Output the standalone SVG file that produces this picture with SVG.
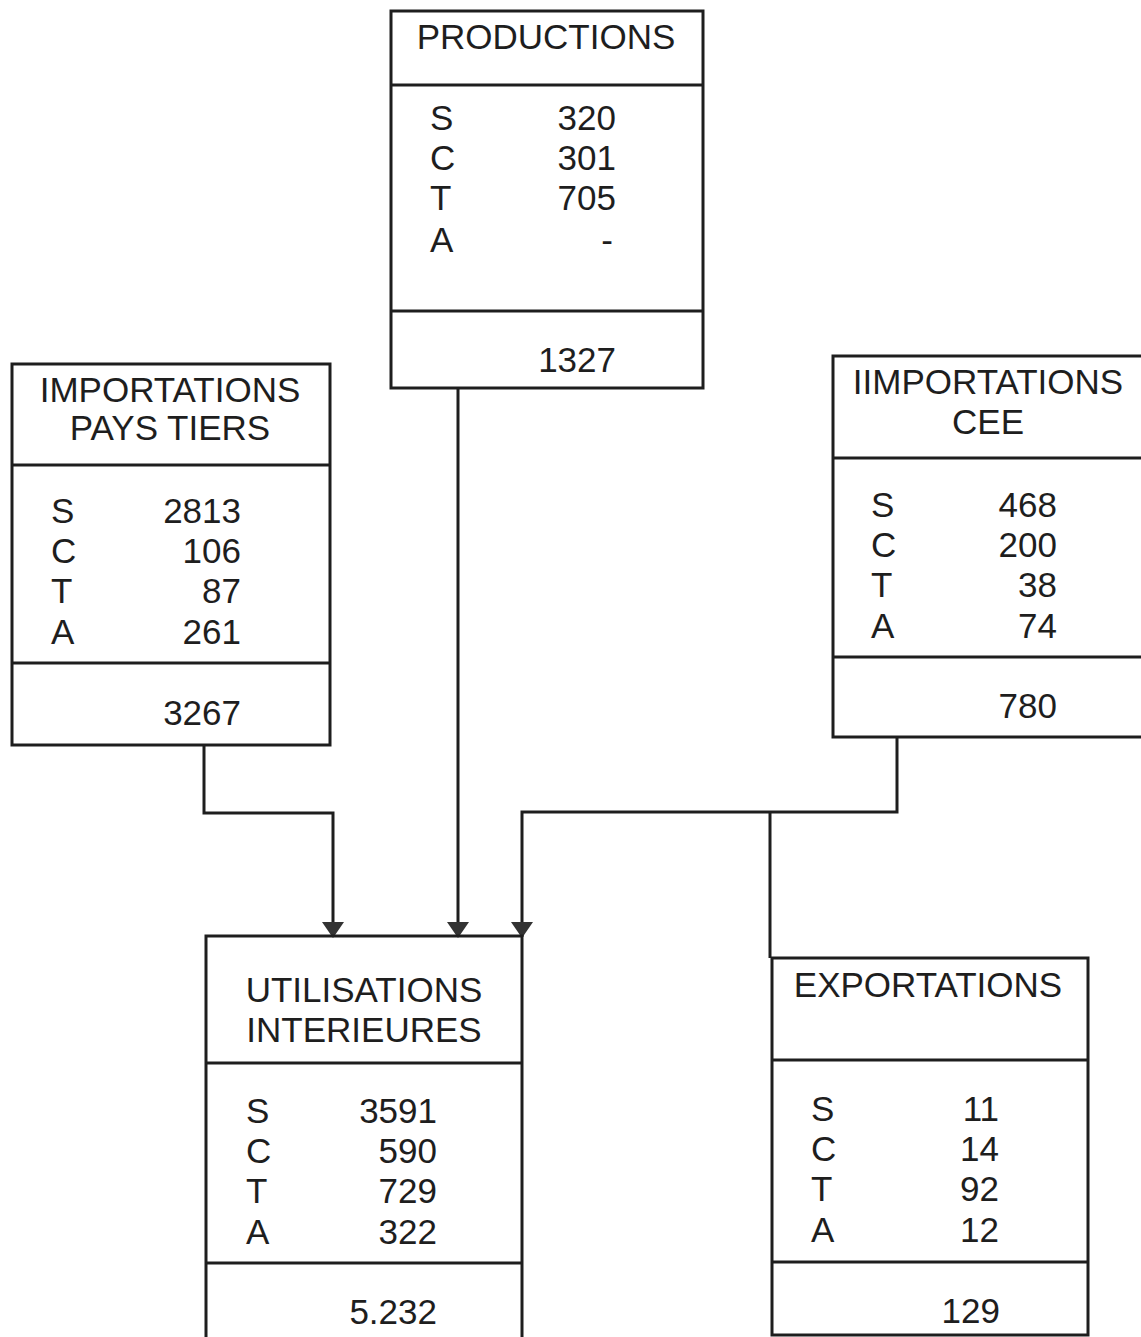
<svg xmlns="http://www.w3.org/2000/svg" width="1141" height="1337" viewBox="0 0 1141 1337">
<style>
.box{fill:none;stroke:#1e1e1e;stroke-width:3}
.ln{stroke:#1e1e1e;stroke-width:3}
.t{font-family:"Liberation Sans",Arial,sans-serif;font-size:35px;fill:#1e1e1e}
.c{text-anchor:middle}
.e{text-anchor:end}
.conn{fill:none;stroke:#1e1e1e;stroke-width:3}
</style>
<defs>
<marker id="arr" viewBox="0 0 16 22" refX="15" refY="11" markerWidth="16" markerHeight="22" markerUnits="userSpaceOnUse" orient="auto">
<path d="M0,0 L16,11 L0,22 z" fill="#333"/>
</marker>
</defs>
<rect width="1141" height="1337" fill="#fff"/>
<g id="connectors">
<path class="conn" d="M204 745 V813 H333 V937" marker-end="url(#arr)"/>
<path class="conn" d="M458 388 V937" marker-end="url(#arr)"/>
<path class="conn" d="M897 737 V812 H522 V937" marker-end="url(#arr)"/>
<path class="conn" d="M770 812 V958"/>
</g>
<g id="productions">
<rect class="box" x="391" y="11" width="312" height="377"/>
<line class="ln" x1="391" y1="85" x2="703" y2="85"/>
<line class="ln" x1="391" y1="311" x2="703" y2="311"/>
<text class="t c" x="546" y="49">PRODUCTIONS</text>
<text class="t" x="430" y="130">S</text>
<text class="t" x="430" y="170">C</text>
<text class="t" x="430" y="210">T</text>
<text class="t" x="430" y="252">A</text>
<text class="t e" x="616" y="130">320</text>
<text class="t e" x="616" y="170">301</text>
<text class="t e" x="616" y="210">705</text>
<text class="t e" x="613" y="252">-</text>
<text class="t e" x="616" y="372">1327</text>
</g>
<g id="imp-pays-tiers">
<rect class="box" x="12" y="364" width="318" height="381"/>
<line class="ln" x1="12" y1="465" x2="330" y2="465"/>
<line class="ln" x1="12" y1="663" x2="330" y2="663"/>
<text class="t c" x="170" y="402">IMPORTATIONS</text>
<text class="t c" x="170" y="440">PAYS TIERS</text>
<text class="t" x="51" y="523">S</text>
<text class="t" x="51" y="563">C</text>
<text class="t" x="51" y="603">T</text>
<text class="t" x="51" y="644">A</text>
<text class="t e" x="241" y="523">2813</text>
<text class="t e" x="241" y="563">106</text>
<text class="t e" x="241" y="603">87</text>
<text class="t e" x="241" y="644">261</text>
<text class="t e" x="241" y="725">3267</text>
</g>
<g id="imp-cee">
<rect class="box" x="833" y="356" width="310" height="381"/>
<line class="ln" x1="833" y1="458" x2="1143" y2="458"/>
<line class="ln" x1="833" y1="657" x2="1143" y2="657"/>
<text class="t c" x="988" y="394">IIMPORTATIONS</text>
<text class="t c" x="988" y="434">CEE</text>
<text class="t" x="871" y="517">S</text>
<text class="t" x="871" y="557">C</text>
<text class="t" x="871" y="597">T</text>
<text class="t" x="871" y="638">A</text>
<text class="t e" x="1057" y="517">468</text>
<text class="t e" x="1057" y="557">200</text>
<text class="t e" x="1057" y="597">38</text>
<text class="t e" x="1057" y="638">74</text>
<text class="t e" x="1057" y="718">780</text>
</g>
<g id="utilisations">
<rect class="box" x="206" y="936" width="316" height="410"/>
<line class="ln" x1="206" y1="1063" x2="522" y2="1063"/>
<line class="ln" x1="206" y1="1263" x2="522" y2="1263"/>
<text class="t c" x="364" y="1002">UTILISATIONS</text>
<text class="t c" x="364" y="1042">INTERIEURES</text>
<text class="t" x="246" y="1123">S</text>
<text class="t" x="246" y="1163">C</text>
<text class="t" x="246" y="1203">T</text>
<text class="t" x="246" y="1244">A</text>
<text class="t e" x="437" y="1123">3591</text>
<text class="t e" x="437" y="1163">590</text>
<text class="t e" x="437" y="1203">729</text>
<text class="t e" x="437" y="1244">322</text>
<text class="t e" x="437" y="1324">5.232</text>
</g>
<g id="exportations">
<rect class="box" x="772" y="958" width="316" height="377"/>
<line class="ln" x1="772" y1="1060" x2="1088" y2="1060"/>
<line class="ln" x1="772" y1="1262" x2="1088" y2="1262"/>
<text class="t c" x="928" y="997">EXPORTATIONS</text>
<text class="t" x="811" y="1121">S</text>
<text class="t" x="811" y="1161">C</text>
<text class="t" x="811" y="1201">T</text>
<text class="t" x="811" y="1242">A</text>
<text class="t e" x="999" y="1121">11</text>
<text class="t e" x="999" y="1161">14</text>
<text class="t e" x="999" y="1201">92</text>
<text class="t e" x="999" y="1242">12</text>
<text class="t e" x="1000" y="1323">129</text>
</g>
</svg>
